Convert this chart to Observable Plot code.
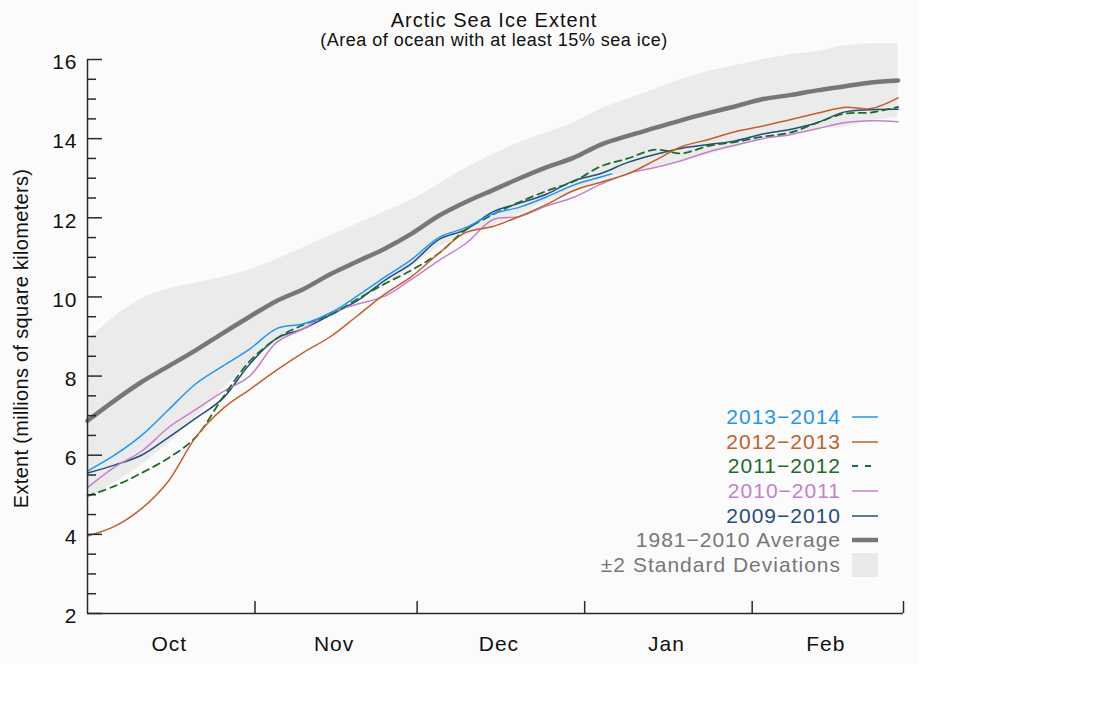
<!DOCTYPE html>
<html>
<head>
<meta charset="utf-8">
<script src="https://cdn.jsdelivr.net/npm/d3@7"></script>
<script src="https://cdn.jsdelivr.net/npm/@observablehq/plot@0.6"></script>
<style>
  body { margin: 0; background: #ffffff; font-family: "Liberation Sans", Arial, Helvetica, sans-serif; }
  #wrap { position: relative; width: 1115px; height: 724px; overflow: hidden; }
  #bg { position: absolute; left: 0; top: 0; width: 918px; height: 664px; background: #fbfbfb; }
  #title { position: absolute; left: 0; top: 8px; width: 988px; text-align: center; font-size: 20px; line-height: 24px; letter-spacing: 1px; color: #111; }
  #subtitle { position: absolute; left: 0; top: 30px; width: 988px; text-align: center; font-size: 18px; line-height: 20px; letter-spacing: 0.5px; color: #111; }
  #chart { position: absolute; left: 0; top: 46px; }
  #chart svg { overflow: visible; background: transparent; }
  #chart svg text { letter-spacing: 1px; }
  #chart svg g[aria-label="text"] text { letter-spacing: 0.3px; }
  .lg { position: absolute; right: calc(1115px - 841px); font-size: 21px; line-height: 24px; letter-spacing: 1px; white-space: nowrap; }
  .sw { position: absolute; left: 852px; }
</style>
</head>
<body>
<div id="wrap">
  <div id="bg"></div>
  <div id="title">Arctic Sea Ice Extent</div>
  <div id="subtitle">(Area of ocean with at least 15% sea ice)</div>
  <div id="chart"></div>
  <div id="legend"></div>
</div>
<script>
// ---- data (day of season, 0 = Oct 1) ----
const days = [0,5,10,15,20,25,30,35,40,45,50,55,60,65,70,75,80,85,90,95,100,105,110,115,120,125,130,135,140,145,150];
const days1314 = [0,5,10,15,20,25,30,35,40,45,50,55,60,65,70,75,80,85,90,95,97];

const avg8110 = [6.87,7.38,7.85,8.25,8.65,9.08,9.5,9.9,10.2,10.58,10.9,11.22,11.6,12.05,12.4,12.7,13.0,13.28,13.52,13.85,14.07,14.27,14.47,14.65,14.82,15.0,15.1,15.22,15.32,15.42,15.47];
const sdUpper = [8.9,9.5,9.95,10.2,10.35,10.5,10.68,10.95,11.25,11.55,11.85,12.15,12.45,12.85,13.25,13.6,13.9,14.15,14.4,14.75,15.0,15.25,15.5,15.7,15.85,16.0,16.12,16.2,16.35,16.4,16.4];
const sdLower = [4.9,5.3,5.75,6.3,6.95,7.66,8.32,8.85,9.15,9.61,9.95,10.29,10.75,11.25,11.55,11.8,12.1,12.41,12.62,12.95,13.14,13.29,13.44,13.6,13.79,14.0,14.08,14.24,14.29,14.44,14.54];

const s1314 = [5.6,6.0,6.5,7.15,7.8,8.25,8.68,9.2,9.32,9.6,10.03,10.5,10.95,11.5,11.75,12.1,12.27,12.53,12.83,13.03,13.11];
const s1213 = [3.96,4.2,4.65,5.35,6.45,7.17,7.66,8.15,8.6,9.0,9.53,10.07,10.52,11.1,11.63,11.78,12.04,12.34,12.69,12.9,13.11,13.45,13.8,13.98,14.18,14.32,14.48,14.64,14.79,14.76,15.03];
const s1112 = [4.97,5.22,5.55,5.93,6.45,7.45,8.37,8.95,9.3,9.55,9.95,10.33,10.68,11.1,11.7,12.08,12.4,12.68,12.92,13.3,13.5,13.72,13.63,13.82,13.92,14.05,14.15,14.4,14.63,14.66,14.8];
const s1011 = [5.18,5.7,6.1,6.7,7.15,7.6,8.0,8.85,9.2,9.6,9.82,10.02,10.45,10.92,11.35,11.95,12.03,12.3,12.52,12.85,13.12,13.27,13.45,13.67,13.84,14.0,14.1,14.25,14.4,14.45,14.43];
const s0910 = [5.55,5.75,6.0,6.45,6.93,7.43,8.3,8.95,9.2,9.55,9.91,10.42,10.85,11.45,11.7,12.15,12.37,12.6,12.94,13.12,13.4,13.6,13.76,13.85,13.95,14.12,14.23,14.4,14.67,14.73,14.74];

const seriesNames = ["2013\u22122014", "2012\u22122013", "2011\u22122012", "2010\u22122011", "2009\u22122010"];
const seriesColors = ["#2196f0", "#c0602a", "#1d6b2d", "#c580cc", "#244c7c"];
const avgName = "1981\u22122010 Average";
const sdName = "\u00b12 Standard Deviations";
const yTitle = "Extent (millions of square kilometers)";

const monthNames = ["Oct", "Nov", "Dec", "Jan", "Feb"];
const monthStarts = [0, 31, 61, 92, 123, 151];
const yMajor = [2, 4, 6, 8, 10, 12, 14, 16];

// ---- derived tables ----
const monthMids = monthNames.map((m, i) => (monthStarts[i] + monthStarts[i + 1]) / 2);
const monthLabel = new Map(monthMids.map((d, i) => [d, monthNames[i]]));
const yMinor = d3.range(yMajor[0], yMajor[yMajor.length - 1] + 0.01, 0.5).filter(v => !yMajor.includes(v));
const band = days.map((d, i) => ({day: d, lo: sdLower[i], hi: sdUpper[i]}));
const avgRows = days.map((d, i) => ({day: d, v: avg8110[i]}));
const seriesValues = [s1314, s1213, s1112, s1011, s0910];
const seriesDays = [days1314, days, days, days, days];
const seriesRows = seriesValues.map((vals, k) => vals.map((v, i) => ({day: seriesDays[k][i], v, series: seriesNames[k]})));

const xDomain = [monthStarts[0], monthStarts[monthStarts.length - 1]];
const yDomain = [yMajor[0], yMajor[yMajor.length - 1]];
const axisColor = "#2a2a2a";
const curve = "catmull-rom";

// draw order: oldest first, newest on top
const lineMarks = [4, 3, 2, 1, 0].map(k => Plot.lineY(seriesRows[k], {
  x: "day", y: "v", stroke: seriesColors[k], strokeWidth: k === 2 ? 1.8 : 1.5,
  strokeDasharray: k === 2 ? "7,5" : null, curve
}));

const chart = Plot.plot({
  width: 1115,
  height: 678,
  marginLeft: 87,
  marginRight: 212,
  marginTop: 13,
  marginBottom: 111,
  style: {background: "transparent", overflow: "visible", fontFamily: "Liberation Sans, Arial, sans-serif"},
  x: {type: "linear", domain: xDomain},
  y: {domain: yDomain},
  marks: [
    Plot.areaY(band, {x: "day", y1: "lo", y2: "hi", fill: "#ebebeb", curve}),
    Plot.lineY(avgRows, {x: "day", y: "v", stroke: "#777777", strokeWidth: 4.5, curve}),
    ...lineMarks,
    // axis lines
    Plot.ruleX([xDomain[0]], {stroke: axisColor, strokeWidth: 1.5}),
    Plot.ruleY([yDomain[0]], {stroke: axisColor, strokeWidth: 1.5}),
    // y ticks (inward)
    Plot.axisY({ticks: yMajor, tickSize: -15, tickFormat: () => "", label: null, stroke: axisColor, strokeWidth: 1.5}),
    Plot.axisY({ticks: yMinor, tickSize: -9, tickFormat: () => "", label: null, stroke: axisColor, strokeWidth: 1.5}),
    Plot.axisY({ticks: yMajor, tickSize: 0, tickPadding: 10, fontSize: 21, dy: 3, fill: "#111", label: null}),
    // x ticks (inward) and month labels
    Plot.axisX({ticks: monthStarts.slice(1), tickSize: -12, tickFormat: () => "", label: null, stroke: axisColor, strokeWidth: 1.5}),
    Plot.axisX({ticks: monthMids, tickSize: 0, tickPadding: 23, fontSize: 21, dx: -2, fill: "#111", tickFormat: d => monthLabel.get(d), label: null}),
    // y axis title
    Plot.text([yTitle], {frameAnchor: "left", textAnchor: "middle", lineAnchor: "middle", rotate: -90, dx: -66, dy: 2, fontSize: 20, fill: "#111", text: d => d})
  ]
});
document.getElementById("chart").appendChild(chart);

// ---- legend (HTML overlay inside plot area) ----
const legend = document.getElementById("legend");
const rowY = [417, 442, 466, 491, 516, 540, 565];
const legendItems = seriesNames.map((n, k) => ({label: n, color: seriesColors[k], kind: k === 2 ? "dash" : "line"}))
  .concat([{label: avgName, color: "#777777", kind: "thick"}, {label: sdName, color: "#777777", kind: "box"}]);
legendItems.forEach((it, i) => {
  const t = document.createElement("div");
  t.className = "lg";
  t.style.top = (rowY[i] - 12) + "px";
  t.style.color = it.color;
  t.textContent = it.label;
  legend.appendChild(t);
  const s = document.createElementNS("http://www.w3.org/2000/svg", "svg");
  s.setAttribute("class", "sw");
  s.setAttribute("width", 26);
  s.setAttribute("height", 24);
  s.style.top = (rowY[i] - 12) + "px";
  if (it.kind === "box") {
    s.innerHTML = `<rect x="0" y="0" width="26" height="24" fill="#e9e9e9"/>`;
  } else {
    const w = it.kind === "thick" ? 4.5 : (it.kind === "dash" ? 1.8 : 1.5);
    const dash = it.kind === "dash" ? ` stroke-dasharray="6,7"` : "";
    s.innerHTML = `<line x1="0" x2="26" y1="12" y2="12" stroke="${it.color}" stroke-width="${w}"${dash}/>`;
  }
  legend.appendChild(s);
});
</script>
</body>
</html>
